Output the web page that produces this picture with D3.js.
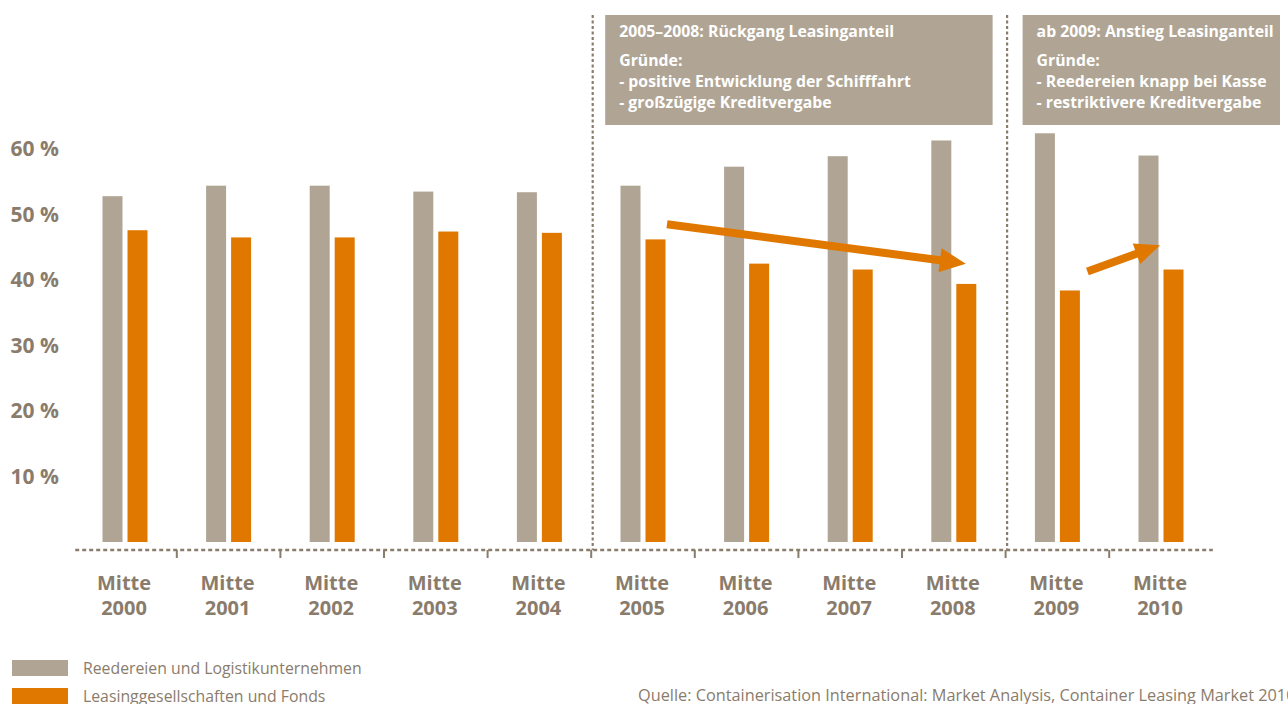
<!DOCTYPE html>
<html><head><meta charset="utf-8">
<script src="https://cdn.jsdelivr.net/npm/d3@7"></script>
<style>
html,body{margin:0;padding:0;background:#fff;}
svg{display:block;font-family:"Open Sans",sans-serif;}
</style></head>
<body><svg id="c" width="1288" height="704"></svg>
<script>
const categories = ["2000","2001","2002","2003","2004","2005","2006","2007","2008","2009","2010"];
const seriesNames = ["Reedereien und Logistikunternehmen","Leasinggesellschaften und Fonds"];
const reedereien = [52.8,54.4,54.4,53.5,53.4,54.4,57.3,58.9,61.3,62.4,59.0];
const leasing    = [47.6,46.5,46.5,47.4,47.2,46.2,42.5,41.6,39.4,38.4,41.6];
const yTicks = [10,20,30,40,50,60];
const box1Lines = ["2005–2008: Rückgang Leasinganteil","Gründe:","- positive Entwicklung der Schifffahrt","- großzügige Kreditvergabe"];
const box2Lines = ["ab 2009: Anstieg Leasinganteil","Gründe:","- Reedereien knapp bei Kasse","- restriktivere Kreditvergabe"];
const source = "Quelle: Containerisation International: Market Analysis, Container Leasing Market 2010";

const GRAY = "#b0a594", ORANGE = "#e07800", TXT = "#8a7c6c";
const svg = d3.select("#c");

const x = d3.scaleBand().domain(categories).range([73.2, 1212.8]).padding(0);
const xs = d3.scaleBand().domain([0,1]).range([x.bandwidth()/2-22.5, x.bandwidth()/2+22.5]).paddingInner(0.2);
const y = d3.scaleLinear().domain([0,60]).range([542,149]);

// y labels
svg.append("g").selectAll("text").data(yTicks).join("text")
  .attr("x", 59).attr("y", d => y(d)).attr("dy","0.35em")
  .attr("text-anchor","end").attr("fill",TXT)
  .style("font-size","21px").style("font-weight","bold")
  .text(d => d + " %");

// bars
const data = categories.map((c,i)=>({c, v:[reedereien[i], leasing[i]]}));
const g = svg.append("g").selectAll("g").data(data).join("g")
  .attr("transform", d => `translate(${x(d.c)},0)`);
g.selectAll("rect").data(d => d.v.map((v,k)=>({v,k}))).join("rect")
  .attr("x", d => xs(d.k)).attr("width", xs.bandwidth())
  .attr("y", d => y(d.v)).attr("height", d => y(0) - y(d.v))
  .attr("fill", d => d.k===0 ? GRAY : ORANGE);

// baseline dotted
const baseY = 550;
svg.append("line").attr("x1", x.range()[0]+2).attr("x2", x.range()[1]).attr("y1",baseY).attr("y2",baseY)
  .attr("stroke",TXT).attr("stroke-width",2.5).attr("stroke-dasharray","4,3");
// ticks between groups
const bounds = categories.slice(1).map(c => x(c));
svg.append("g").selectAll("line").data(bounds).join("line")
  .attr("x1", d=>d).attr("x2", d=>d).attr("y1", baseY).attr("y2", baseY+8)
  .attr("stroke",TXT).attr("stroke-width",2);

// vertical dotted separators
const sepCats = ["2005","2009"];
svg.append("g").selectAll("line").data(sepCats).join("line")
  .attr("x1", d=>x(d)+1.5).attr("x2", d=>x(d)+1.5).attr("y1",15).attr("y2",baseY)
  .attr("stroke",TXT).attr("stroke-width",2.2).attr("stroke-dasharray","3,2.5");

// x labels
const xl = svg.append("g").selectAll("text").data(categories).join("text")
  .attr("x", d => x(d)+x.bandwidth()/2 - 1).attr("text-anchor","middle")
  .attr("fill",TXT).style("font-size","20px").style("font-weight","bold");
xl.append("tspan").attr("x", d => x(d)+x.bandwidth()/2 - 1).attr("y",590).text("Mitte");
xl.append("tspan").attr("x", d => x(d)+x.bandwidth()/2 - 1).attr("y",615).text(d=>d);

// annotation boxes
function box(x0, x1, lines){
  svg.append("rect").attr("x",x0).attr("y",15).attr("width",x1-x0).attr("height",110).attr("fill",GRAY);
  const ys = [37,66,87,108];
  svg.append("g").selectAll("text").data(lines).join("text")
    .attr("x", x0+14).attr("y",(d,i)=>ys[i]).attr("fill","#fff")
    .style("font-size","15.8px").style("font-weight","bold").text(d=>d);
}
box(x("2005")+14, x("2009")-13, box1Lines);
box(x("2009")+17, 1280, box2Lines);

// arrows
function arrow(cat0, dx0, v0, cat1, dx1, v1, headLen, headW){
  const sx = x(cat0)+x.bandwidth()/2+dx0, sy = y(v0);
  const tx = x(cat1)+x.bandwidth()/2+dx1, ty = y(v1);
  const L = Math.hypot(tx-sx, ty-sy), ux=(tx-sx)/L, uy=(ty-sy)/L, nx=-uy, ny=ux;
  const bx = tx-ux*headLen, by = ty-uy*headLen, w=4;
  const pts = [[sx+nx*w,sy+ny*w],[bx+nx*w,by+ny*w],[bx+nx*headW,by+ny*headW],[tx,ty],
               [bx-nx*headW,by-ny*headW],[bx-nx*w,by-ny*w],[sx-nx*w,sy-ny*w]];
  svg.append("path").attr("d", d3.line()(pts)+"Z").attr("fill",ORANGE);
}
arrow("2005", 24, 48.5, "2008", 12, 42.5, 26, 12);
arrow("2009", 30, 41.3, "2010", -1, 45.3, 25, 11);

// legend
const lg = svg.append("g").selectAll("g").data(seriesNames).join("g")
  .attr("transform",(d,i)=>`translate(12,${660+i*28})`);
lg.append("rect").attr("width",56).attr("height",16).attr("fill",(d,i)=>i===0?GRAY:ORANGE);
lg.append("text").attr("x",71).attr("y",8).attr("dy","0.35em").attr("fill",TXT)
  .style("font-size","15.8px").text(d=>d);

// source
svg.append("text").attr("x",638).attr("y",701).attr("fill",TXT).style("font-size","16.3px").text(source);
</script></body></html>
